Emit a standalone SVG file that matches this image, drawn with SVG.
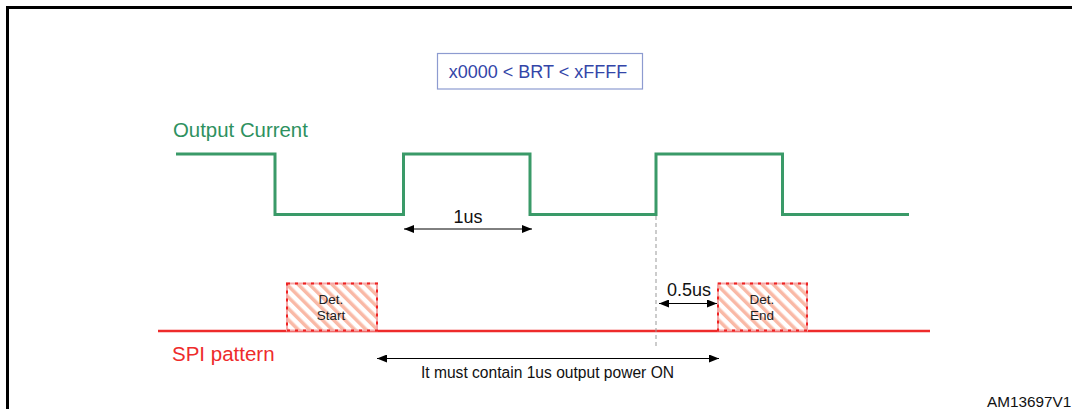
<svg xmlns="http://www.w3.org/2000/svg" width="1072" height="409" viewBox="0 0 1072 409">
<style>
text{font-family:"Liberation Sans",Arial,sans-serif}
.wave{fill:none;stroke:#3a9a68;stroke-width:3}
.spi{stroke:#ee2b2b;stroke-width:2.5}
.dim{stroke:#000;stroke-width:1;marker-start:url(#ah);marker-end:url(#ah)}
.det{fill:url(#hatch);stroke:#f5a7a7;stroke-width:2}
.detb{fill:none;stroke:#ee2222;stroke-width:2;stroke-dasharray:3 5}
.dt{font-size:13.5px;fill:#222;text-anchor:middle}
.lbl{font-size:18px;fill:#111}
</style>
<defs>
<marker id="ah" viewBox="0 0 10 8" refX="10" refY="4" markerWidth="10" markerHeight="8" markerUnits="userSpaceOnUse" orient="auto-start-reverse">
<path d="M0,0 L10,4 L0,8 Z" fill="#000"/>
</marker>
<pattern id="hatch" patternUnits="userSpaceOnUse" width="8" height="8" patternTransform="rotate(-45)">
<rect width="8" height="8" fill="#fff"/>
<rect x="0" y="0" width="3.5" height="8" fill="#f9b9a6"/>
</pattern>
</defs>
<path d="M7.5,409 V7.5 H1072" fill="none" stroke="#000" stroke-width="3"/>
<g id="brt">
<rect x="437.5" y="53.5" width="205" height="35.5" fill="#fff" stroke="#8d9bd0" stroke-width="1.2"/>
<text x="538" y="78" font-size="18" fill="#3345a8" text-anchor="middle">x0000 &lt; BRT &lt; xFFFF</text>
</g>
<g id="output-current">
<text x="173" y="137" font-size="20.4" fill="#2e9160">Output Current</text>
<path class="wave" d="M176,154 H275 V214.5 H403.5 V154 H530 V214.5 H656 V154 H782.5 V214.5 H909"/>
</g>
<g id="spi-pattern">
<text x="172" y="361" font-size="20.5" fill="#ee2b2b">SPI pattern</text>
<line class="spi" x1="158" y1="331" x2="930" y2="331"/>
</g>
<g id="det-start">
<rect class="det" x="287" y="283.5" width="90" height="47"/>
<rect class="detb" x="287" y="283.5" width="90" height="47"/>
<text class="dt" x="331" y="304">Det.</text>
<text class="dt" x="331" y="320">Start</text>
</g>
<g id="det-end">
<rect class="det" x="718" y="283.5" width="89" height="47"/>
<rect class="detb" x="718" y="283.5" width="89" height="47"/>
<text class="dt" x="762" y="304">Det.</text>
<text class="dt" x="762" y="320">End</text>
</g>
<g id="connectors">
<line x1="656" y1="216" x2="656" y2="346" stroke="#999" stroke-width="1" stroke-dasharray="4 3"/>
<line class="dim" x1="404" y1="229" x2="532" y2="229"/>
<text class="lbl" x="468" y="223" text-anchor="middle">1us</text>
<line class="dim" x1="659" y1="303.5" x2="717" y2="303.5"/>
<text class="lbl" x="689" y="296" text-anchor="middle">0.5us</text>
<line class="dim" x1="377" y1="358.5" x2="719" y2="358.5"/>
<text x="547.5" y="378" font-size="15.6" fill="#111" text-anchor="middle">It must contain 1us output power ON</text>
</g>
<text x="987" y="407" font-size="15.3" fill="#111">AM13697V1</text>
</svg>
